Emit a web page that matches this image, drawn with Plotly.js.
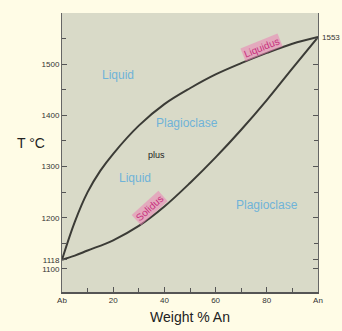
<!DOCTYPE html>
<html><head><meta charset="utf-8">
<script src="https://cdn.plot.ly/plotly-3.0.1.min.js"></script>
<style>html,body{margin:0;padding:0;background:#fffce6;}#c{width:342px;height:331px;}</style>
</head><body><div id="c"></div>
<script>
const anPct = [0, 5, 10, 15, 20, 30, 40, 50, 60, 70, 80, 90, 100];
const liquidusT = [1118, 1192, 1250, 1292, 1325, 1380, 1422, 1453, 1480, 1502, 1522, 1540, 1553];
const solidusPct = [0, 5, 10, 20, 30, 40, 50, 60, 70, 80, 90, 100];
const solidusT = [1118, 1126, 1136, 1156, 1184, 1222, 1268, 1318, 1372, 1430, 1492, 1553];
const xTickVals = [0, 20, 40, 60, 80, 100];
const xTickText = ['Ab', '20', '40', '60', '80', 'An'];
const yTickVals = [1100, 1118, 1200, 1300, 1400, 1500];
const yTickText = ['1100', '1118', '1200', '1300', '1400', '1500'];
const regionLabels = ['Liquid', 'Plagioclase', 'plus', 'Liquid', 'Plagioclase'];
const regionX = [22, 49, 37, 28.5, 80];
const regionY = [1479, 1385, 1322, 1278, 1225];

const F = 'Liberation Sans, Arial';
const lineStyle = {color: '#3b3b36', width: 2, shape: 'spline', smoothing: 1};
const traces = [
  {x: anPct, y: liquidusT, mode: 'lines', line: lineStyle, hoverinfo: 'skip'},
  {x: solidusPct, y: solidusT, mode: 'lines', line: lineStyle, hoverinfo: 'skip'}
];
const ann = regionLabels.map((t, i) => ({
  x: regionX[i], y: regionY[i], text: t, showarrow: false,
  font: {family: F, size: t === 'plus' ? 9 : 12, color: t === 'plus' ? '#222' : '#6fb3d8'}
}));
ann.push({x: 78, y: 1533, text: 'Liquidus', showarrow: false, textangle: -22,
  font: {family: F, size: 10, color: '#c8307e'}, bgcolor: 'rgba(235,130,180,0.55)'});
ann.push({x: 34, y: 1219, text: 'Solidus', showarrow: false, textangle: -42,
  font: {family: F, size: 10, color: '#c8307e'}, bgcolor: 'rgba(235,130,180,0.55)'});
ann.push({x: 100, y: 1553, xanchor: 'left', xshift: 2, text: '1553', showarrow: false,
  font: {family: F, size: 8, color: '#333'}});
ann.push({xref: 'paper', x: -0.12, y: 1347, xanchor: 'center', text: 'T °C', showarrow: false,
  font: {family: F, size: 14, color: '#222'}});

const layout = {
  width: 342, height: 331,
  margin: {l: 62, r: 24, t: 13, b: 39},
  paper_bgcolor: '#fffce6', plot_bgcolor: '#d9dac8',
  showlegend: false,
  xaxis: {range: [0, 100], tickvals: xTickVals, ticktext: xTickText, ticks: 'inside', ticklen: 5,
    tickcolor: '#555', showgrid: false, zeroline: false, showline: true, linecolor: '#555', linewidth: 1.5,
    minor: {tickvals: [10, 30, 50, 70, 90], ticks: 'inside', ticklen: 4, tickcolor: '#555'},
    tickfont: {family: F, size: 8, color: '#333'},
    title: {text: 'Weight % An', font: {family: F, size: 14, color: '#222'}, standoff: 8}},
  yaxis: {range: [1055, 1600], tickvals: yTickVals, ticktext: yTickText, ticks: 'inside', ticklen: 5,
    tickcolor: '#555', showgrid: false, zeroline: false, showline: true, mirror: 'ticks', linecolor: '#666', linewidth: 1,
    minor: {tickvals: [1150, 1250, 1350, 1450, 1550], ticks: 'inside', ticklen: 4, tickcolor: '#555'},
    tickfont: {family: F, size: 8, color: '#333'}},
  annotations: ann
};
Plotly.newPlot('c', traces, layout, {displayModeBar: false, staticPlot: true});
</script></body></html>
